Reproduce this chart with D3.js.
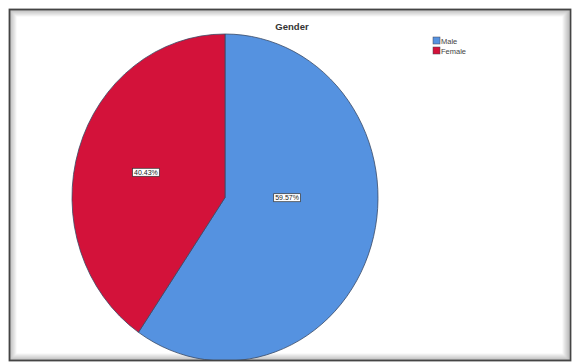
<!DOCTYPE html>
<html><head><meta charset="utf-8">
<script src="https://cdn.jsdelivr.net/npm/d3@7"></script>
<style>html,body{margin:0;padding:0;background:#fff;}svg{display:block;}</style>
</head><body>
<svg id="chart" width="573" height="363"></svg>
<script>
const categories = ["Male", "Female"];
const percentages = [59.57, 40.43];
const colors = ["#5592e0", "#d3123a"];
const title = "Gender";

const svg = d3.select("#chart");
const W = 573, H = 363;

// frame with inner shadow
const defs = svg.append("defs");
for (let i = 7; i >= 1; i--) {
  svg.append("rect")
    .attr("x", 9 + i).attr("y", 9 + i)
    .attr("width", 561 - 2 * i).attr("height", 352 - 2 * i)
    .attr("fill", "none")
    .attr("stroke", "#000")
    .attr("stroke-opacity", 0.04 * (8 - i))
    .attr("stroke-width", 1);
}

// pie (slightly stretched vertically as in reference)
const cx = 225, cy = 197.5, R = 153, sy = 163.5 / 153;
const pie = d3.pie().sort(null).value(d => d.v)
  .startAngle(0).endAngle(2 * Math.PI);
const data = categories.map((c, i) => ({ c, v: percentages[i], i }));
const arcs = pie(data);
const arc = d3.arc().innerRadius(0).outerRadius(R);

const clip = defs.append("clipPath").attr("id", "frameclip");
clip.append("rect").attr("x", 10).attr("y", 10).attr("width", 559).attr("height", 350);

const g = svg.append("g").attr("clip-path", "url(#frameclip)")
  .append("g").attr("transform", `translate(${cx},${cy}) scale(1,${sy})`);
g.selectAll("path").data(arcs).join("path")
  .attr("d", arc)
  .attr("fill", d => colors[d.data.i])
  .attr("stroke", "#3a4a66")
  .attr("stroke-width", 0.8)
  .attr("vector-effect", "non-scaling-stroke");

// labels
const labelArc = d3.arc().innerRadius(0).outerRadius(R);
const labelNudge = [[-11, -24], [-6, -1]];
const lg = svg.append("g");
arcs.forEach((d, k) => {
  const [x0, y0] = labelArc.centroid(d);
  const x = cx + x0 + labelNudge[k][0];
  const y = cy + y0 * sy + labelNudge[k][1];
  const txt = percentages[d.data.i].toFixed(2) + "%";
  const t = lg.append("text")
    .attr("x", x).attr("y", y + 2.3)
    .attr("text-anchor", "middle")
    .attr("font-family", "Liberation Sans, Arial, sans-serif")
    .attr("font-size", 7)
    .attr("fill", "#222")
    .text(txt);
  const bb = t.node().getBBox();
  lg.insert("rect", "text")
    .attr("x", bb.x - 1.5).attr("y", y - 4)
    .attr("width", bb.width + 3).attr("height", 8)
    .attr("fill", "#fff").attr("stroke", "#333").attr("stroke-width", 0.7);
});

// title
svg.append("text")
  .attr("x", 292).attr("y", 30)
  .attr("text-anchor", "middle")
  .attr("font-family", "Liberation Sans, Arial, sans-serif")
  .attr("font-size", 9.5).attr("font-weight", "bold")
  .attr("fill", "#333")
  .text(title);

// legend
const leg = svg.append("g").attr("transform", "translate(433,37)");
categories.forEach((c, i) => {
  const row = leg.append("g").attr("transform", `translate(0,${i * 10})`);
  row.append("rect").attr("x", 0).attr("y", 0).attr("width", 7).attr("height", 7)
    .attr("fill", colors[i]).attr("stroke", "#445").attr("stroke-width", 0.5);
  row.append("text").attr("x", 8).attr("y", 6.5)
    .attr("font-family", "Liberation Sans, Arial, sans-serif")
    .attr("font-size", 7.5).attr("fill", "#444").text(c);
});

// outer border line
svg.append("rect").attr("x", 9.5).attr("y", 9.5).attr("width", 561).attr("height", 351)
  .attr("fill", "none").attr("stroke", "#444").attr("stroke-width", 1.8);
</script>
</body></html>
